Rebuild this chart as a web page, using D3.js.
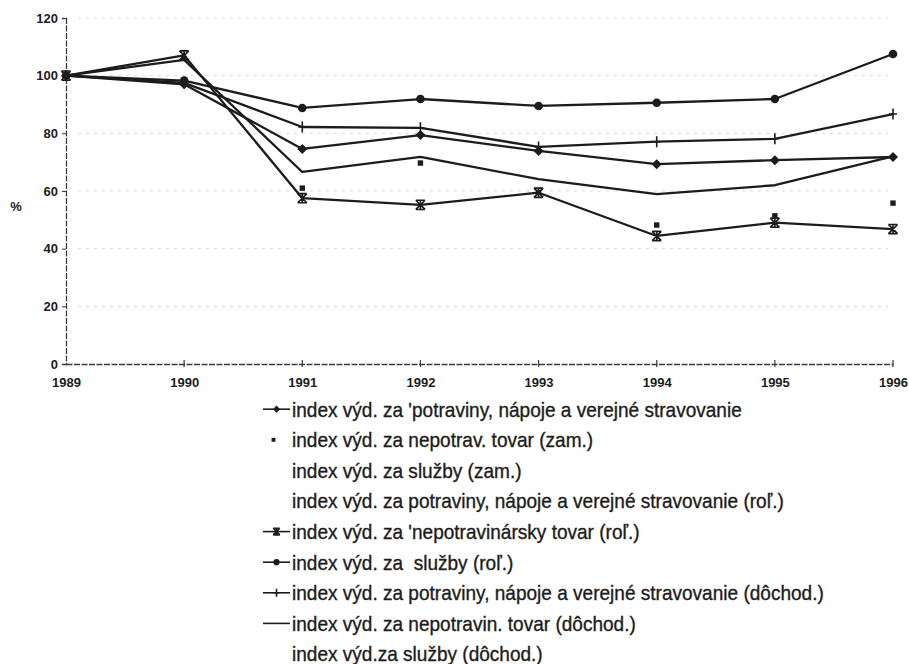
<!DOCTYPE html>
<html><head><meta charset="utf-8">
<script src="https://cdn.jsdelivr.net/npm/d3@7"></script>
<style>body{margin:0;background:#fff}svg{display:block}</style>
</head><body><svg id="c" width="909" height="664"></svg>
<script>
const years=[1989,1990,1991,1992,1993,1994,1995,1996];
const yTicks=[0,20,40,60,80,100,120];
const foodZam=[100,97,74.6,79.4,73.9,69.3,70.7,71.8];
const nonfoodZam=[100,106,61,69.7,59.5,48.2,51.4,55.8];
const nonfoodRol=[100,107,57.5,55.2,59.4,44.4,49,46.8];
const servicesRol=[100,98.3,88.8,91.9,89.5,90.6,91.9,107.5];
const foodDoch=[100,97.5,82.2,81.9,75.3,77.1,78.1,86.7];
const nonfoodDoch=[100,105.5,66.6,71.8,64.1,58.9,62.0,72];
const legendLabels=[
 "index výd. za 'potraviny, nápoje a verejné stravovanie",
 "index výd. za nepotrav. tovar (zam.)",
 "index výd. za služby (zam.)",
 "index výd. za potraviny, nápoje a verejné stravovanie (roľ.)",
 "index výd. za 'nepotravinársky tovar (roľ.)",
 "index výd. za  služby (roľ.)",
 "index výd. za potraviny, nápoje a verejné stravovanie (dôchod.)",
 "index výd. za nepotravin. tovar (dôchod.)",
 "index výd.za služby (dôchod.)"
];
const legendMarkers=["diamond","square",null,null,"asterisk","circle","plus","none",null];
const legendLines=[true,false,false,false,true,true,true,true,false];

const series=[
 {values:foodZam,line:true,marker:"diamond"},
 {values:nonfoodZam,line:false,marker:"square"},
 {values:nonfoodDoch,line:true,marker:"none"},
 {values:foodDoch,line:true,marker:"plus"},
 {values:servicesRol,line:true,marker:"circle"},
 {values:nonfoodRol,line:true,marker:"asterisk"}
];

const svg=d3.select("#c");
const x=d3.scaleLinear().domain([1989,1996]).range([66,893]);
const y=d3.scaleLinear().domain([0,120]).range([364,18]);
const ink="#1c1c1c";

// faint gridlines
svg.append("g").selectAll("line").data(yTicks.filter(d=>d>0)).join("line")
 .attr("x1",x(1989)+12).attr("x2",x(1996)-5)
 .attr("y1",d=>y(d)).attr("y2",d=>y(d))
 .attr("stroke","#dadada").attr("stroke-width",1).attr("stroke-dasharray","3,5");

// axes
const yAxis=d3.axisLeft(y).tickValues(yTicks).tickSize(4).tickPadding(4);
const gy=svg.append("g").attr("transform",`translate(${x(1989)},0)`).call(yAxis);
const xAxis=d3.axisBottom(x).tickValues(years).tickFormat(d3.format("d")).tickSize(0).tickPadding(14);
const gx=svg.append("g").attr("transform",`translate(0,${y(0)})`).call(xAxis);
[gy,gx].forEach(g=>{
 g.select(".domain").attr("stroke","#3a3a3a").attr("stroke-width",1.3).attr("stroke-dasharray","6,1.5");
 g.selectAll(".tick line").attr("stroke","#3a3a3a");
 g.selectAll(".tick text").attr("fill",ink).style("font-family","Liberation Sans, Arial, sans-serif")
  .style("font-size","13px").style("font-weight","bold");
});
// small crossing ticks on x axis
svg.append("g").selectAll("line").data(years.slice(1)).join("line")
 .attr("x1",d=>x(d)).attr("x2",d=>x(d)).attr("y1",y(0)-4).attr("y2",y(0)+3)
 .attr("stroke","#3a3a3a").attr("stroke-width",1.2);
svg.append("text").attr("x",16).attr("y",211).attr("text-anchor","middle")
 .style("font-family","Liberation Sans, Arial, sans-serif").style("font-size","13px").style("font-weight","bold")
 .attr("fill",ink).text("%");

function drawMarker(g,type,cx,cy,scale){
 const s=scale||1;
 if(type==="diamond"){
  g.append("path").attr("d",`M${cx},${cy-5*s}L${cx+5*s},${cy}L${cx},${cy+5*s}L${cx-5*s},${cy}Z`).attr("fill",ink);
 }else if(type==="square"){
  g.append("rect").attr("x",cx-2.7*s).attr("y",cy-2.7*s).attr("width",5.4*s).attr("height",5.4*s).attr("fill",ink);
 }else if(type==="circle"){
  g.append("circle").attr("cx",cx).attr("cy",cy).attr("r",4.3*s).attr("fill",ink);
 }else if(type==="asterisk"){
  const r=4.6*s;
  g.append("path").attr("d",`M${cx-r},${cy-r}L${cx+r},${cy+r}M${cx-r},${cy+r}L${cx+r},${cy-r}M${cx-r},${cy-r}L${cx+r},${cy-r}M${cx-r},${cy+r}L${cx+r},${cy+r}M${cx},${cy-r}L${cx},${cy+r}`)
   .attr("stroke",ink).attr("stroke-width",1.6).attr("fill","none");
 }else if(type==="plus"){
  g.append("path").attr("d",`M${cx},${cy-5.5*s}L${cx},${cy+5.5*s}M${cx-4*s},${cy}L${cx+4*s},${cy}`)
   .attr("stroke",ink).attr("stroke-width",1.6).attr("fill","none");
 }
}

const line=d3.line().x((d,i)=>x(years[i])).y(d=>y(d));
const gl=svg.append("g");
series.forEach(s=>{
 if(s.line){
  gl.append("path").datum(s.values).attr("d",line).attr("fill","none")
   .attr("stroke",ink).attr("stroke-width",2.3).attr("stroke-linejoin","round");
 }
});
const gm=svg.append("g");
series.forEach(s=>{
 s.values.forEach((v,i)=>{ if(s.marker!=="none") drawMarker(gm,s.marker,x(years[i]),y(v)); });
});

// legend
const lg=svg.append("g");
const base0=416.5, step=30.6, textX=292, targetW=450;
legendLabels.forEach((t,i)=>{
 const by=base0+i*step, cy=by-7.3;
 if(legendLines[i]) lg.append("line").attr("x1",263).attr("x2",290).attr("y1",cy).attr("y2",cy).attr("stroke",ink).attr("stroke-width",1.6);
 if(legendMarkers[i]&&legendMarkers[i]!=="none") drawMarker(lg,legendMarkers[i],legendMarkers[i]==="square"?273.5:276.5,cy,0.72);
 lg.append("text").attr("class","lt").attr("transform",`translate(${textX},${by})`)
  .style("font-family","Liberation Sans, Arial, sans-serif").style("font-size","20px")
  .attr("fill",ink).attr("stroke",ink).attr("stroke-width",0.35)
  .attr("xml:space","preserve").style("white-space","pre").text(t);
});
const w0=lg.select("text.lt").node().getComputedTextLength();
const sx=targetW/w0;
lg.selectAll("text.lt").attr("transform",function(){
 const m=this.getAttribute("transform");
 return m+` scale(${sx},1)`;
});
</script></body></html>
